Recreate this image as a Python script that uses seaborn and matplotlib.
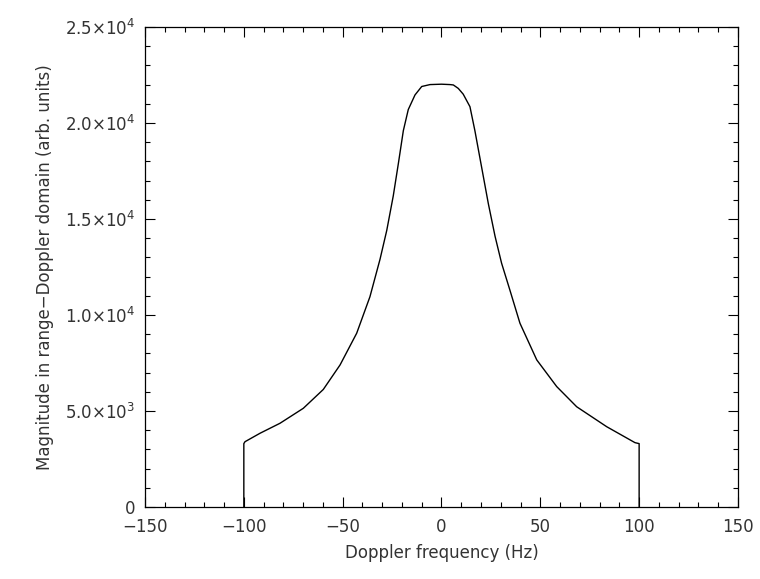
import matplotlib
matplotlib.use("Agg")
import matplotlib.pyplot as plt
import matplotlib.ticker as mticker
import seaborn as sns
import pandas as pd

# Doppler frequency (Hz) and magnitude (arb. units)
freq_hz = [-100, -100, -99.4, -91.8, -81.7, -69.9, -59.8, -51.3, -42.9,
           -36.2, -31.1, -27.7, -24.4, -21.8, -19.3, -16.8, -13.4, -10.0,
           -5.8, 0, 4.3, 6.0, 8.5, 11.0, 14.4, 16.9, 20.3, 23.7, 27.1,
           30.4, 34.6, 39.7, 48.2, 58.3, 68.4, 83.6, 97.9, 100, 100]
magnitude = [0, 3300, 3400, 3840, 4360, 5140, 6120, 7400, 9050,
             10950, 12900, 14400, 16200, 17900, 19600, 20700, 21460, 21900,
             22000, 22020, 22000, 21980, 21800, 21500, 20850, 19600, 17700,
             15800, 14100, 12700, 11300, 9570, 7660, 6270, 5220, 4180, 3350,
             3300, 0]

x_ticks = [-150, -100, -50, 0, 50, 100, 150]
x_tick_labels = ["\u2212150", "\u2212100", "\u221250", "0", "50", "100", "150"]
y_ticks = [0, 5000, 10000, 15000, 20000, 25000]
y_tick_labels = ["0", r"$5.0{\times}10^{3}$", r"$1.0{\times}10^{4}$",
                 r"$1.5{\times}10^{4}$", r"$2.0{\times}10^{4}$",
                 r"$2.5{\times}10^{4}$"]

x_label = "Doppler frequency (Hz)"
y_label = "Magnitude in range\u2212Doppler domain (arb. units)"

sns.set_style("ticks")
plt.rcParams["font.family"] = ["DejaVu Sans"]
plt.rcParams["mathtext.fontset"] = "dejavusans"

df = pd.DataFrame({"freq": freq_hz, "mag": magnitude})

fig = plt.figure(figsize=(7.6, 5.79), dpi=100)
ax = fig.add_axes([0.1908, 0.1244, 0.7802, 0.8290])

sns.lineplot(data=df, x="freq", y="mag", sort=False, estimator=None,
             color="black", linewidth=1.0, ax=ax)

ax.set_xlim(-150, 150)
ax.set_ylim(0, 25000)
ax.xaxis.set_major_locator(mticker.FixedLocator(x_ticks))
ax.xaxis.set_major_formatter(mticker.FixedFormatter(x_tick_labels))
ax.xaxis.set_minor_locator(mticker.MultipleLocator(10))
ax.yaxis.set_major_locator(mticker.FixedLocator(y_ticks))
ax.yaxis.set_major_formatter(mticker.FixedFormatter(y_tick_labels))
ax.yaxis.set_minor_locator(mticker.MultipleLocator(1000))

for s in ax.spines.values():
    s.set_visible(True)
    s.set_linewidth(0.9)
    s.set_color("black")

ax.tick_params(which="both", direction="in", top=True, right=True,
               color="black", width=0.8)
ax.tick_params(which="major", length=7.2, labelsize=12, labelcolor="#333333")
ax.tick_params(axis="x", which="major", pad=8)
ax.tick_params(axis="y", which="major", pad=7)
ax.tick_params(which="minor", length=3.6)

ax.set_xlabel(x_label, fontsize=12, color="#333333", labelpad=6)
ax.set_ylabel(y_label, fontsize=12, color="#333333", labelpad=8)

fig.savefig("out.png", dpi=100, facecolor="white")
